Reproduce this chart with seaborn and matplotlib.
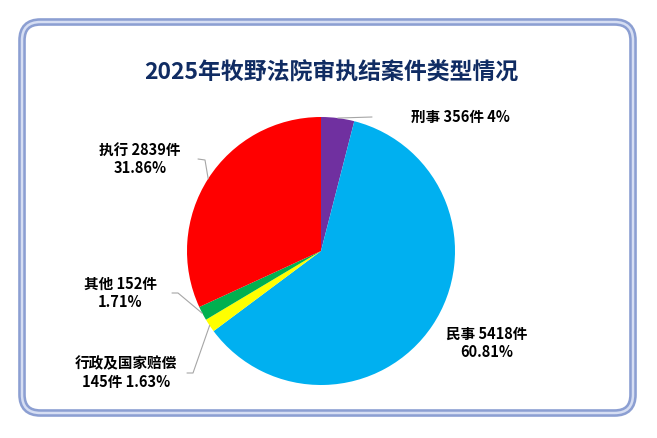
import matplotlib.pyplot as plt
import numpy as np
import seaborn as sns
from matplotlib.patches import FancyBboxPatch

sns.set_theme(style="white")
plt.rcParams['font.family'] = ['Noto Sans CJK SC', 'DejaVu Sans']

# data
categories = ["刑事", "民事", "行政及国家赔偿", "其他", "执行"]
counts = [356, 5418, 145, 152, 2839]
pct_labels = ["4%", "60.81%", "1.63%", "1.71%", "31.86%"]
colors = ["#7030A0", "#00B0F0", "#FFFF00", "#00B050", "#FF0000"]

W, H = 657, 438
CX, CY, R = 321, 251, 134

fig = plt.figure(figsize=(W / 100, H / 100), dpi=100)
fig.patch.set_facecolor("white")

# rounded double border
for lw, col in [(5.5, "#8C9FD2"), (1.8, "#D6DEF3")]:
    box = FancyBboxPatch((22 / W, 25 / H), 611 / W, 391 / H,
                         boxstyle="round,pad=0,rounding_size=0.028",
                         transform=fig.transFigure, facecolor="none",
                         edgecolor=col, linewidth=lw, mutation_aspect=W / H)
    fig.patches.append(box)

ax = fig.add_axes([(CX - R) / W, (H - CY - R) / H, 2 * R / W, 2 * R / H])
wedges, _ = ax.pie(counts, colors=colors, startangle=90, counterclock=False,
                   radius=1.0, wedgeprops=dict(linewidth=0))
ax.set_xlim(-1, 1)
ax.set_ylim(-1, 1)
ax.set_aspect("equal")
ax.axis("off")


def px(x, y):
    # image pixel -> pie data coords
    return (x - CX) / R, (CY - y) / R


# label text position (pixels) and leader path (pixels, from text side)
layout = {
    "刑事": dict(text=(460, 117), leader=[(372, 117)]),
    "民事": dict(text=(487, 343), leader=None),
    "行政及国家赔偿": dict(text=(126, 373), leader=[(187, 373), (193, 373)]),
    "其他": dict(text=(120, 293), leader=[(172, 293), (178, 293)]),
    "执行": dict(text=(140, 159), leader=[(198, 159), (205, 160)]),
}

for w, cat, n, p in zip(wedges, categories, counts, pct_labels):
    cfg = layout[cat]
    if cat == "刑事":
        label = f"{cat} {n}件 {p}"
    elif cat == "行政及国家赔偿":
        label = f"{cat}\n{n}件 {p}"
    else:
        label = f"{cat} {n}件\n{p}"
    tx, ty = px(*cfg["text"])
    ax.text(tx, ty, label, ha="center", va="center", fontsize=10.5,
            fontweight="bold", color="black", linespacing=1.2, clip_on=False)
    if cfg["leader"]:
        mid = np.deg2rad((w.theta1 + w.theta2) / 2)
        pts = [px(*q) for q in cfg["leader"]] + [(np.cos(mid), np.sin(mid))]
        xs, ys = zip(*pts)
        ax.plot(xs, ys, color="#A6A6A6", lw=0.8, clip_on=False)

fig.text(331 / W, 1 - 73 / H, "2025年牧野法院审执结案件类型情况",
         ha="center", va="center", fontsize=16.5, fontweight="bold",
         color="#102C63")

fig.savefig("out.png", dpi=100, facecolor="white")
